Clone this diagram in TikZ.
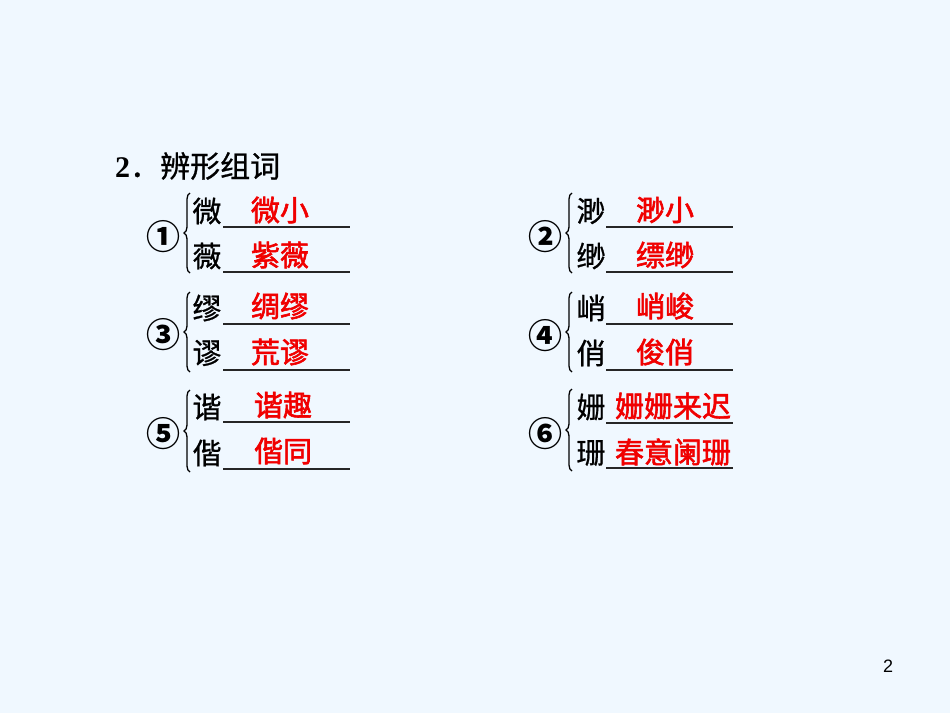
\documentclass[tikz,border=0pt]{standalone}
\usepackage{fontspec}
\setmainfont{Liberation Serif}
\newfontfamily\cjk[FakeBold=0.8]{Noto Sans CJK SC}
\newfontfamily\cjkred[FakeBold=2]{Noto Sans CJK SC}
\newfontfamily\cjkcirc{Noto Sans CJK SC}
\newfontfamily\pagefont{Liberation Sans}
\usetikzlibrary{decorations.pathreplacing}
\definecolor{bgblue}{HTML}{F0F8FF}
\definecolor{ansred}{HTML}{F00000}
\begin{document}
\begin{tikzpicture}[x=1pt,y=-1pt,
  ch/.style={inner sep=0pt,font=\fontsize{29}{29}\selectfont\cjk,text=black},
  ans/.style={inner sep=0pt,font=\fontsize{29}{29}\selectfont\cjkred,text=ansred},
  circ/.style={inner sep=0pt,font=\fontsize{34}{34}\selectfont\cjkcirc\bfseries,text=black},
  uline/.style={line width=1.5pt,black!85},
  bracestyle/.style={decorate,decoration={brace,amplitude=6pt},line width=1.3pt,black}]
\fill[bgblue] (0,0) rectangle (950,713);
\useasboundingbox (0,0) rectangle (950,713);
% title
\node[inner sep=0pt,anchor=west,font=\fontsize{30}{30}\selectfont] (title) at (115,166) {\textbf{2}\cjk ．辨形组词};
% page number
\node[inner sep=0pt,font=\fontsize{18}{18}\selectfont\pagefont] (pg) at (888,666) {2};
% ---------- left column ----------
% block 1
\node[circ] (c1) at (163,237) {①};
\draw[bracestyle] (190,273) -- (190,193);
\node[ch] (a1) at (207,211) {微};
\node[ch] (b1) at (207,256) {薇};
\coordinate (u1s) at (223,227); \coordinate (u1e) at (350,227);
\coordinate (v1s) at (223,272); \coordinate (v1e) at (350,272);
\draw[uline] (u1s) -- (u1e);
\draw[uline] (v1s) -- (v1e);
\node[ans] (ra1) at (280,210) {微小};
\node[ans] (rb1) at (280,255) {紫薇};
% block 3
\node[circ] (c3) at (163,335) {③};
\draw[bracestyle] (190,372) -- (190,292);
\node[ch] (a3) at (207,308) {缪};
\node[ch] (b3) at (207,353) {谬};
\coordinate (u3s) at (223,324); \coordinate (u3e) at (350,324);
\coordinate (v3s) at (223,370); \coordinate (v3e) at (350,370);
\draw[uline] (u3s) -- (u3e);
\draw[uline] (v3s) -- (v3e);
\node[ans] (ra3) at (280,306) {绸缪};
\node[ans] (rb3) at (280,352) {荒谬};
% block 5
\node[circ] (c5) at (163,434) {⑤};
\draw[bracestyle] (190,472) -- (190,390);
\node[ch] (a5) at (207,407) {谐};
\node[ch] (b5) at (207,453) {偕};
\coordinate (u5s) at (223,422); \coordinate (u5e) at (350,422);
\coordinate (v5s) at (223,469); \coordinate (v5e) at (350,469);
\draw[uline] (u5s) -- (u5e);
\draw[uline] (v5s) -- (v5e);
\node[ans] (ra5) at (283,405) {谐趣};
\node[ans] (rb5) at (283,451) {偕同};
% ---------- right column ----------
% block 2
\node[circ] (c2) at (545,237) {②};
\draw[bracestyle] (572,273) -- (572,193);
\node[ch] (a2) at (591,211) {渺};
\node[ch] (b2) at (591,256) {缈};
\coordinate (u2s) at (606,227); \coordinate (u2e) at (733,227);
\coordinate (v2s) at (606,272); \coordinate (v2e) at (733,272);
\draw[uline] (u2s) -- (u2e);
\draw[uline] (v2s) -- (v2e);
\node[ans] (ra2) at (665,210) {渺小};
\node[ans] (rb2) at (665,255) {缥缈};
% block 4
\node[circ] (c4) at (545,336) {④};
\draw[bracestyle] (572,372) -- (572,292);
\node[ch] (a4) at (591,308) {峭};
\node[ch] (b4) at (591,353) {俏};
\coordinate (u4s) at (606,324); \coordinate (u4e) at (733,324);
\coordinate (v4s) at (606,370); \coordinate (v4e) at (733,370);
\draw[uline] (u4s) -- (u4e);
\draw[uline] (v4s) -- (v4e);
\node[ans] (ra4) at (665,306) {峭峻};
\node[ans] (rb4) at (665,352) {俊俏};
% block 6
\node[circ] (c6) at (545,434) {⑥};
\draw[bracestyle] (572,471) -- (572,389);
\node[ch] (a6) at (591,407) {姗};
\node[ch] (b6) at (591,453) {珊};
\coordinate (u6s) at (606,423); \coordinate (u6e) at (733,423);
\coordinate (v6s) at (606,468); \coordinate (v6e) at (733,468);
\draw[uline] (u6s) -- (u6e);
\draw[uline] (v6s) -- (v6e);
\node[ans] (ra6) at (673,406) {姗姗来迟};
\node[ans] (rb6) at (673,452) {春意阑珊};
\end{tikzpicture}
\end{document}
